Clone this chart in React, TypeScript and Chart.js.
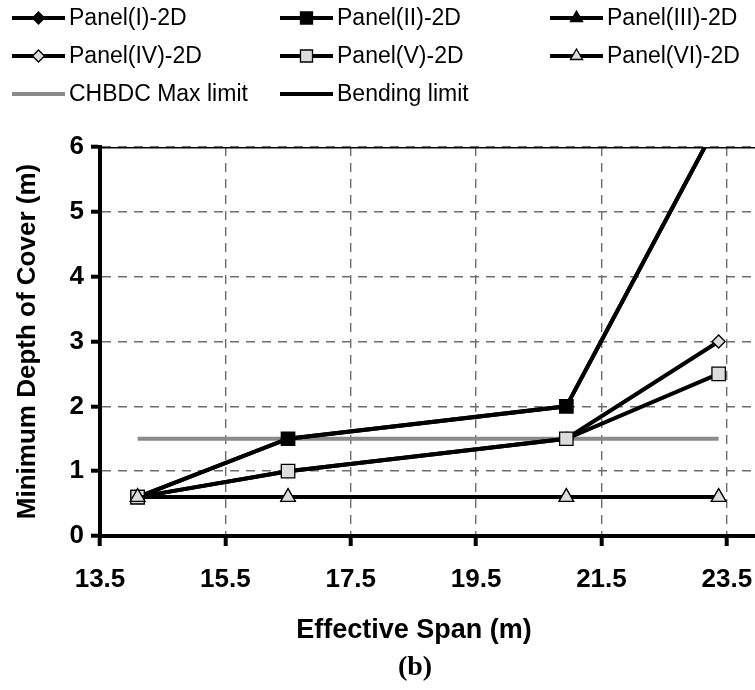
import React, { useEffect, useRef } from "react";
import { Chart, registerables } from "chart.js";

Chart.register(...registerables);

// ---- data ----
const spans = [14.1, 16.5, 20.94, 23.37];
const panelI = [0.6, 1.5, 2.0, 6.4];
const panelII = [0.6, 1.5, 2.0, 6.4];
const panelIII = [0.6, 0.6, 0.6, 0.6];
const panelIV = [0.6, 1.0, 1.5, 3.0];
const panelV = [0.6, 1.0, 1.5, 2.5];
const panelVI = [0.6, 0.6, 0.6, 0.6];
const chbdcSpans = [14.1, 23.37];
const chbdcLimit = [1.5, 1.5];
const bendingSpans = [13.5, 24.5];
const bendingLimit = [6, 6];
const xTickValues = [13.5, 15.5, 17.5, 19.5, 21.5, 23.5];
const seriesNames = [
  "Panel(I)-2D",
  "Panel(II)-2D",
  "Panel(III)-2D",
  "Panel(IV)-2D",
  "Panel(V)-2D",
  "Panel(VI)-2D",
  "CHBDC Max limit",
  "Bending limit",
];
const xTitle = "Effective Span (m)";
const yTitle = "Minimum Depth of Cover (m)";
const panelTag = "(b)";

const LIGHT = "#dcdcdc";
const GRAY_LINE = "#8a8a8a";
const GRID = "#6e6e6e";

type Marker = { style: string; fill: string; r: number; lr: number };
const markers: (Marker | null)[] = [
  { style: "rectRot", fill: "#000", r: 6, lr: 6 },
  { style: "rect", fill: "#000", r: 9.5, lr: 8.5 },
  { style: "triangle", fill: "#000", r: 8, lr: 7 },
  { style: "rectRot", fill: LIGHT, r: 6.5, lr: 6 },
  { style: "rect", fill: LIGHT, r: 9.5, lr: 8.5 },
  { style: "triangle", fill: LIGHT, r: 8.5, lr: 7 },
  null,
  null,
];
const lineColors = ["#000", "#000", "#000", "#000", "#000", "#000", GRAY_LINE, "#000"];

const toPts = (xs: number[], ys: number[]) => xs.map((x, i) => ({ x, y: ys[i] }));

function drawMarker(ctx: CanvasRenderingContext2D, m: Marker, x: number, y: number) {
  const r = m.lr;
  ctx.save();
  ctx.beginPath();
  if (m.style === "rect") {
    const s = r * Math.SQRT1_2;
    ctx.rect(x - s, y - s, 2 * s, 2 * s);
  } else if (m.style === "rectRot") {
    ctx.moveTo(x, y - r);
    ctx.lineTo(x + r, y);
    ctx.lineTo(x, y + r);
    ctx.lineTo(x - r, y);
    ctx.closePath();
  } else {
    const a = (2 * Math.PI) / 3;
    ctx.moveTo(x, y - r);
    ctx.lineTo(x + Math.sin(a) * r, y - Math.cos(a) * r);
    ctx.lineTo(x + Math.sin(2 * a) * r, y - Math.cos(2 * a) * r);
    ctx.closePath();
  }
  ctx.fillStyle = m.fill;
  ctx.fill();
  ctx.lineWidth = 1.3;
  ctx.strokeStyle = "#000";
  ctx.stroke();
  ctx.restore();
}

const legendCols = [12, 280, 550];
const legendRows = [18, 56, 94];

const legendPlugin = {
  id: "panelLegend",
  afterDraw(chart: any) {
    const ctx: CanvasRenderingContext2D = chart.ctx;
    seriesNames.forEach((name, i) => {
      const x0 = legendCols[i % 3];
      const y = legendRows[Math.floor(i / 3)];
      ctx.save();
      ctx.strokeStyle = lineColors[i];
      ctx.lineWidth = 4;
      ctx.beginPath();
      ctx.moveTo(x0, y);
      ctx.lineTo(x0 + 53, y);
      ctx.stroke();
      ctx.restore();
      const m = markers[i];
      if (m) drawMarker(ctx, m, x0 + 26.5, y);
      ctx.save();
      ctx.fillStyle = "#000";
      ctx.font = '23px "Liberation Sans", Arial, sans-serif';
      ctx.textBaseline = "middle";
      ctx.textAlign = "left";
      ctx.fillText(name, x0 + 57, y + 1);
      ctx.restore();
    });
  },
};

const captionPlugin = {
  id: "captions",
  afterDraw(chart: any) {
    const ctx: CanvasRenderingContext2D = chart.ctx;
    ctx.save();
    ctx.fillStyle = "#000";
    ctx.textAlign = "center";
    ctx.textBaseline = "middle";
    ctx.font = 'bold 27px "Liberation Sans", Arial, sans-serif';
    ctx.fillText(xTitle, 414, 631);
    ctx.font = 'bold 28px "Liberation Serif", "Times New Roman", serif';
    ctx.fillText(panelTag, 415, 668);
    ctx.restore();
  },
};

export default function App() {
  const ref = useRef<HTMLCanvasElement | null>(null);

  useEffect(() => {
    if (!ref.current) return;
    const panels = [panelI, panelII, panelIII, panelIV, panelV, panelVI];
    const order = [6, 4, 5, 3, 2, 1];
    const datasets: any[] = panels.map((vals, i) => {
      const m = markers[i]!;
      return {
        label: seriesNames[i],
        data: toPts(spans, vals),
        borderColor: "#000",
        borderWidth: 4,
        pointStyle: m.style,
        pointRadius: m.r,
        pointBackgroundColor: m.fill,
        pointBorderColor: "#000",
        pointBorderWidth: 1.3,
        tension: 0,
        order: order[i],
      };
    });
    datasets.push({
      label: seriesNames[6],
      data: toPts(chbdcSpans, chbdcLimit),
      borderColor: GRAY_LINE,
      borderWidth: 4,
      pointRadius: 0,
      order: 7,
    });
    datasets.push({
      label: seriesNames[7],
      data: toPts(bendingSpans, bendingLimit),
      borderColor: "#000",
      borderWidth: 3,
      pointRadius: 0,
      order: 8,
    });

    const tickFont = { family: '"Liberation Sans", Arial, sans-serif', size: 26, weight: "bold" as const };

    const chart = new Chart(ref.current, {
      type: "line",
      data: { datasets },
      options: {
        animation: false,
        responsive: false,
        devicePixelRatio: 1,
        layout: { autoPadding: false, padding: { top: 147, left: 0, right: 0, bottom: 0 } },
        plugins: {
          legend: { display: false },
          tooltip: { enabled: false },
        },
        scales: {
          x: {
            type: "linear",
            min: 13.5,
            max: 23.95,
            afterBuildTicks: (s: any) => {
              s.ticks = xTickValues.map((v) => ({ value: v }));
            },
            afterFit: (s: any) => {
              s.height = 154;
              s.paddingRight = 0;
            },
            ticks: {
              font: tickFont,
              color: "#000",
              padding: 18,
              maxRotation: 0,
              autoSkip: false,
              callback: (v: any) => Number(v).toFixed(1),
            },
            grid: {
              color: GRID,
              lineWidth: 1.4,
              tickColor: "#000",
              tickWidth: 4,
              tickLength: 10,
              tickBorderDash: [],
            },
            border: { color: "#000", width: 4, dash: [9, 7] },
          },
          y: {
            type: "linear",
            min: 0,
            max: 6,
            afterFit: (s: any) => {
              s.width = 100;
            },
            ticks: { stepSize: 1, font: tickFont, color: "#000", padding: 7 },
            grid: {
              color: GRID,
              lineWidth: 1.4,
              tickColor: "#000",
              tickWidth: 4,
              tickLength: 9,
              tickBorderDash: [],
            },
            border: { color: "#000", width: 4, dash: [9, 7] },
            title: {
              display: true,
              text: yTitle,
              color: "#000",
              font: { family: '"Liberation Sans", Arial, sans-serif', size: 26, weight: "bold" },
              padding: { top: 12, bottom: 0 },
            },
          },
        },
      },
      plugins: [legendPlugin, captionPlugin],
    });
    return () => chart.destroy();
  }, []);

  return (
    <div style={{ position: "absolute", left: 0, top: 0, width: 755, height: 690, background: "#fff" }}>
      <canvas ref={ref} width={755} height={690} style={{ display: "block", width: 755, height: 690 }} />
    </div>
  );
}
